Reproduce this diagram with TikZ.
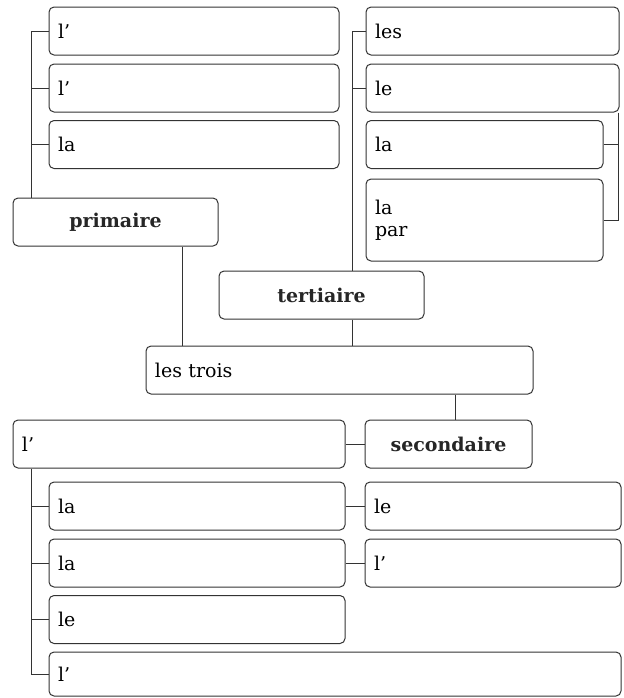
\documentclass[tikz,border=0pt]{standalone}
\usepackage{fontspec}
\setmainfont{DejaVu Serif}
\usepackage{tikz}
\usetikzlibrary{calc}

\begin{document}
\begin{tikzpicture}[x=0.5pt, y=-0.5pt]

        % Styles for the boxes, one unit is one pixel of the scan
        \tikzset{
            box/.style={draw=black!80, line width=0.5pt, rounded corners=2.5pt,
                minimum height=24pt, inner xsep=4.5pt, inner ysep=2pt,
                align=left, font=\fontsize{9.5}{11}\selectfont},
            head/.style={box, align=center, text=black!85,
                font=\fontsize{9.5}{11}\selectfont\bfseries},
            link/.style={draw=black!80, line width=0.5pt}
        }

        \useasboundingbox (0, 0) rectangle (623, 698);

        % Bus lines, given by their x position
        \coordinate (ta) at (31, 0);
        \coordinate (pa) at (182, 0);
        \coordinate (tb) at (352, 0);
        \coordinate (rb) at (618, 0);
        \coordinate (sc) at (455, 0);

        % Upper left group
        \begin{scope}
            \node (l1) at (194, 31) [box, text width=136pt] {l’};
            \node (l2) at (194, 88) [box, text width=136pt] {l’};
            \node (la1) at (194, 144.5) [box, text width=136pt] {la};
            \node (prim) at (115.5, 222) [head, minimum width=102.5pt] {primaire};
        \end{scope}

        % Upper right group
        \begin{scope}
            \node (les) at (492.5, 31) [box, text width=117.5pt] {les};
            \node (le1) at (492.5, 88) [box, text width=117.5pt] {le};
            \node (la2) at (484.5, 144.5) [box, text width=109.5pt] {la};
            \node (lapar) at (484.5, 220) [box, text width=109.5pt, minimum height=41pt] {la\\par};
            \node (tert) at (321.5, 295) [head, minimum width=102.5pt] {tertiaire};
        \end{scope}

        % Middle
        \node (trois) at (339.5, 370) [box, text width=184.5pt] {les trois};
        \node (sec) at (448.5, 444) [head, minimum width=83.5pt] {secondaire};
        \node (lbig) at (179, 444) [box, text width=157pt] {l’};

        % Lower group
        \begin{scope}
            \node (la3) at (197, 506) [box, text width=139pt] {la};
            \node (la4) at (197, 563) [box, text width=139pt] {la};
            \node (le2) at (197, 619.5) [box, text width=139pt] {le};
            \node (llast) at (335, 674) [box, text width=277pt, minimum height=22pt] {l’};
            \node (le3) at (493, 506) [box, text width=119pt] {le};
            \node (l3) at (493, 563) [box, text width=119pt] {l’};
        \end{scope}

        % Connectors
        \begin{scope}[link]
            \draw (l1.west) -| (ta |- prim.north);
            \draw (l2.west) -- (l2.west -| ta);
            \draw (la1.west) -- (la1.west -| ta);
            \draw (prim.south -| pa) -- (trois.north -| pa);

            \draw (les.west) -| (tb |- tert.north);
            \draw (le1.west) -- (le1.west -| tb);
            \draw (tert.south -| tb) -- (trois.north -| tb);
            \draw (le1.south -| rb) |- (lapar.east);
            \draw (la2.east) -- (la2.east -| rb);

            \draw (trois.south -| sc) -- (sec.north -| sc);
            \draw (lbig.east) -- (sec.west);

            \draw (lbig.south -| ta) |- (llast.west);
            \draw (la3.west) -- (la3.west -| ta);
            \draw (la4.west) -- (la4.west -| ta);
            \draw (le2.west) -- (le2.west -| ta);
            \draw (la3.east) -- (le3.west);
            \draw (la4.east) -- (l3.west);
        \end{scope}

\end{tikzpicture}
\end{document}
